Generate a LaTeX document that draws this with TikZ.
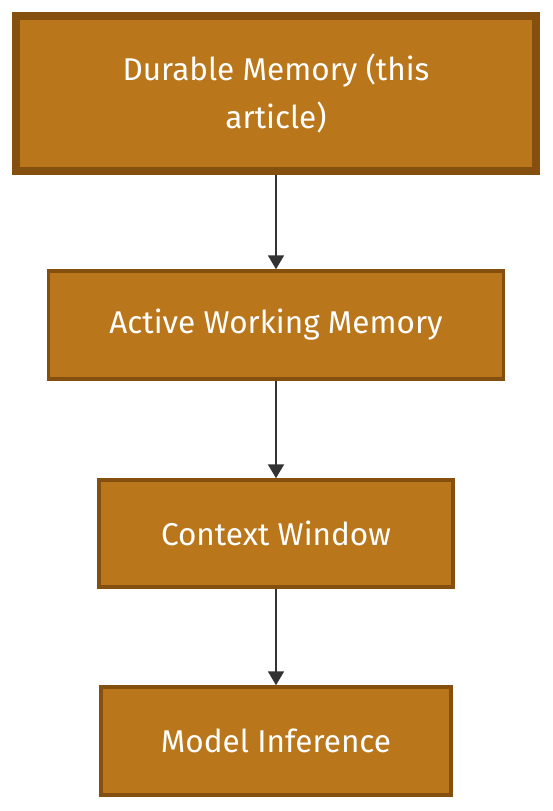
\documentclass[tikz,border=0pt]{standalone}
\usepackage{fontspec}
\setmainfont{Fira Sans}
\usepackage{tikz}
\usetikzlibrary{arrows.meta}
\definecolor{boxfill}{HTML}{B9761A}
\definecolor{boxline}{HTML}{85500F}
\definecolor{arrowgray}{HTML}{333333}

\begin{document}
\begin{tikzpicture}[x=1pt,y=-1pt,
    layer/.style={draw=boxline,fill=boxfill,line width=3.5pt,text=white,align=center,
      font=\fontsize{31.5}{48}\selectfont,inner sep=0pt},
    flow/.style={draw=arrowgray,line width=2pt,-{Triangle[width=16pt,length=14pt]}}]
    \useasboundingbox (0,0) rectangle (552,811);
    \node[layer,line width=8pt,minimum width=520pt,minimum height=155pt] (durable) at (276,93.5) {Durable Memory (this\\article)};
    \node[layer,minimum width=455pt,minimum height=108pt] (active) at (276,325) {Active Working Memory};
    \node[layer,minimum width=354pt,minimum height=107pt] (context) at (276,533.5) {Context Window};
    \node[layer,minimum width=350pt,minimum height=108pt] (model) at (276,741) {Model Inference};

    \draw[flow] (durable.south) -- (active.north);
    \draw[flow] (active.south) -- (context.north);
    \draw[flow] (context.south) -- (model.north);
\end{tikzpicture}
\end{document}
